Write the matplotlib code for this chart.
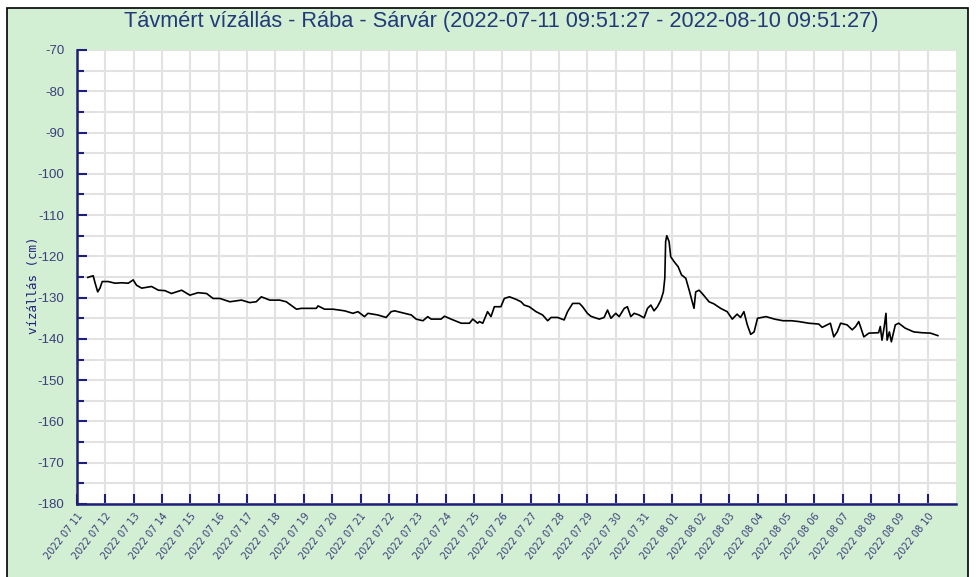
import matplotlib
matplotlib.use("Agg")
import matplotlib.pyplot as plt
import matplotlib.dates as mdates
import pandas as pd
from matplotlib.patches import Rectangle
from matplotlib.ticker import MultipleLocator

plt.rcParams["axes.unicode_minus"] = False

# chart colours
BG_GREEN = "#d2eed3"
NAVY = "#1f1f7a"
TICK_INK = "#3b3f7a"
GRID = "#e2e2e2"

TITLE = "Távmért vízállás - Rába - Sárvár (2022-07-11 09:51:27 - 2022-08-10 09:51:27)"
YLABEL = "vízállás (cm)"

# days since 2022-07-11 00:00
days = [0.38, 0.57, 0.64, 0.73, 0.81, 0.89, 1.1, 1.34, 1.57, 1.81, 1.98, 2.1,
        2.28, 2.63, 2.87, 3.1, 3.33, 3.69, 3.98, 4.27, 4.57, 4.8, 5.04, 5.39,
        5.8, 6.09, 6.32, 6.5, 6.8, 7.15, 7.38, 7.62, 7.74, 7.91, 8.44, 8.5,
        8.73, 9.03, 9.44, 9.73, 9.91, 10.14, 10.26, 10.61, 10.9, 11.08, 11.2,
        11.55, 11.79, 11.96, 12.2, 12.37, 12.49, 12.84, 12.96, 13.19, 13.55,
        13.84, 13.96, 14.13, 14.19, 14.31, 14.48, 14.6, 14.72, 14.95, 15.07,
        15.25, 15.48, 15.66, 15.77, 15.95, 16.19, 16.42, 16.6, 16.72, 16.95,
        17.18, 17.3, 17.48, 17.72, 17.83, 18.0, 18.12, 18.24, 18.42, 18.59,
        18.71, 18.83, 19.0, 19.12, 19.3, 19.41, 19.53, 19.65, 19.82, 20.0,
        20.12, 20.24, 20.35, 20.47, 20.59, 20.68, 20.73, 20.76, 20.8, 20.88,
        20.94, 21.06, 21.2, 21.32, 21.47, 21.59, 21.7, 21.76, 21.82, 21.94,
        22.05, 22.29, 22.46, 22.7, 22.93, 23.11, 23.28, 23.4, 23.52, 23.64,
        23.76, 23.88, 24.0, 24.3, 24.6, 24.9, 25.2, 25.46, 25.81, 26.16,
        26.28, 26.57, 26.69, 26.81, 26.93, 27.16, 27.34, 27.46, 27.57, 27.63,
        27.75, 27.93, 28.27, 28.33, 28.39, 28.47, 28.53, 28.57, 28.65, 28.72,
        28.86, 28.98, 29.21, 29.51, 29.8, 30.1, 30.36]
level = [-125.1, -124.7, -126.5, -128.6, -127.7, -126.1, -126.1, -126.5, -126.4,
         -126.5, -125.7, -127.0, -127.7, -127.3, -128.2, -128.3, -129.0, -128.2,
         -129.4, -128.8, -129.0, -130.2, -130.2, -131.0, -130.6, -131.2, -131.0,
         -129.8, -130.6, -130.6, -131.0, -132.2, -132.8, -132.6, -132.6, -132.0,
         -132.8, -132.8, -133.2, -133.8, -133.4, -134.6, -133.8, -134.2, -134.8,
         -133.4, -133.2, -133.8, -134.2, -135.2, -135.6, -134.6, -135.2, -135.2,
         -134.5, -135.2, -136.2, -136.2, -135.2, -136.2, -135.8, -136.2, -133.4,
         -134.6, -132.2, -132.2, -130.2, -129.8, -130.4, -131.0, -131.8, -132.2,
         -133.4, -134.2, -135.6, -134.8, -134.8, -135.4, -133.4, -131.4, -131.4,
         -132.2, -133.8, -134.5, -134.8, -135.2, -134.8, -133.0, -135.0, -133.8,
         -134.6, -132.6, -132.2, -134.6, -133.8, -134.2, -134.9, -132.6, -131.8,
         -133.2, -132.2, -130.6, -128.6, -125.3, -116.4, -115.0, -116.4, -120.1,
         -121.3, -122.5, -124.5, -125.3, -128.2, -131.0, -132.6, -128.6, -128.2,
         -129.0, -131.0, -131.5, -132.6, -133.4, -135.2, -134.0, -134.8, -133.4,
         -136.6, -138.9, -138.3, -135.0, -134.6, -135.2, -135.6, -135.6, -135.8,
         -136.2, -136.4, -137.2, -136.2, -139.5, -138.3, -136.2, -136.6, -137.8,
         -137.0, -135.8, -137.0, -139.5, -138.6, -138.5, -137.0, -140.3, -137.0,
         -133.8, -140.3, -138.3, -140.7, -136.6, -136.2, -137.4, -138.3, -138.5,
         -138.6, -139.2]

start = pd.Timestamp("2022-07-11 00:00")
times = [start + pd.Timedelta(days=d) for d in days]
tick_days = pd.date_range("2022-07-11", "2022-08-10", freq="D")

fig = plt.figure(figsize=(9.8, 5.77), dpi=100)
fig.patch.set_facecolor("white")
# green panel with a thin black frame
fig.add_artist(Rectangle((7 / 980, -0.01), 961 / 980, 1 - 8 / 577 + 0.01,
                         transform=fig.transFigure, facecolor=BG_GREEN,
                         edgecolor="black", linewidth=1.2, zorder=-10))

ax = fig.add_axes([77 / 980, 1 - 504 / 577, 879 / 980, 454 / 577])
ax.set_facecolor("white")
ax.plot(times, level, color="black", linewidth=1.2, zorder=3)

ax.set_ylim(-180, -70)
ax.set_xlim(start, start + pd.Timedelta(days=31))

ax.yaxis.set_major_locator(MultipleLocator(10))
ax.yaxis.set_minor_locator(MultipleLocator(5))
ax.set_xticks(tick_days)
ax.xaxis.set_major_formatter(mdates.DateFormatter("%Y %m %d"))

ax.grid(True, which="both", color=GRID, linewidth=1.5, zorder=0)
ax.set_axisbelow(True)

for side in ["top", "right"]:
    ax.spines[side].set_visible(False)
for side in ["left", "bottom"]:
    ax.spines[side].set_color(NAVY)
    ax.spines[side].set_linewidth(1.8)

ax.tick_params(axis="both", which="major", direction="in", length=7,
               width=1.5, color=NAVY)
ax.tick_params(axis="y", which="minor", direction="in", length=5,
               width=1.5, color=NAVY)
ax.tick_params(axis="y", labelsize=9.5, labelcolor=TICK_INK, pad=9)
ax.tick_params(axis="x", labelsize=7, labelcolor=TICK_INK, pad=5)
for lab in ax.get_yticklabels():
    lab.set_fontfamily("Liberation Sans")
for lab in ax.get_xticklabels():
    lab.set_rotation(52)
    lab.set_ha("right")
    lab.set_rotation_mode("anchor")
    lab.set_fontfamily("DejaVu Sans")

fig.text(33 / 980, 1 - 285 / 577, YLABEL, rotation=90, ha="center",
         va="center", fontsize=9, color=NAVY, fontfamily="DejaVu Sans Mono")

fig.text(501 / 980, 1 - 22 / 577, TITLE, ha="center", va="center",
         fontsize=15.7, color="#223a78", fontfamily="Liberation Sans")

fig.savefig("out.png", dpi=100, facecolor=fig.get_facecolor())
